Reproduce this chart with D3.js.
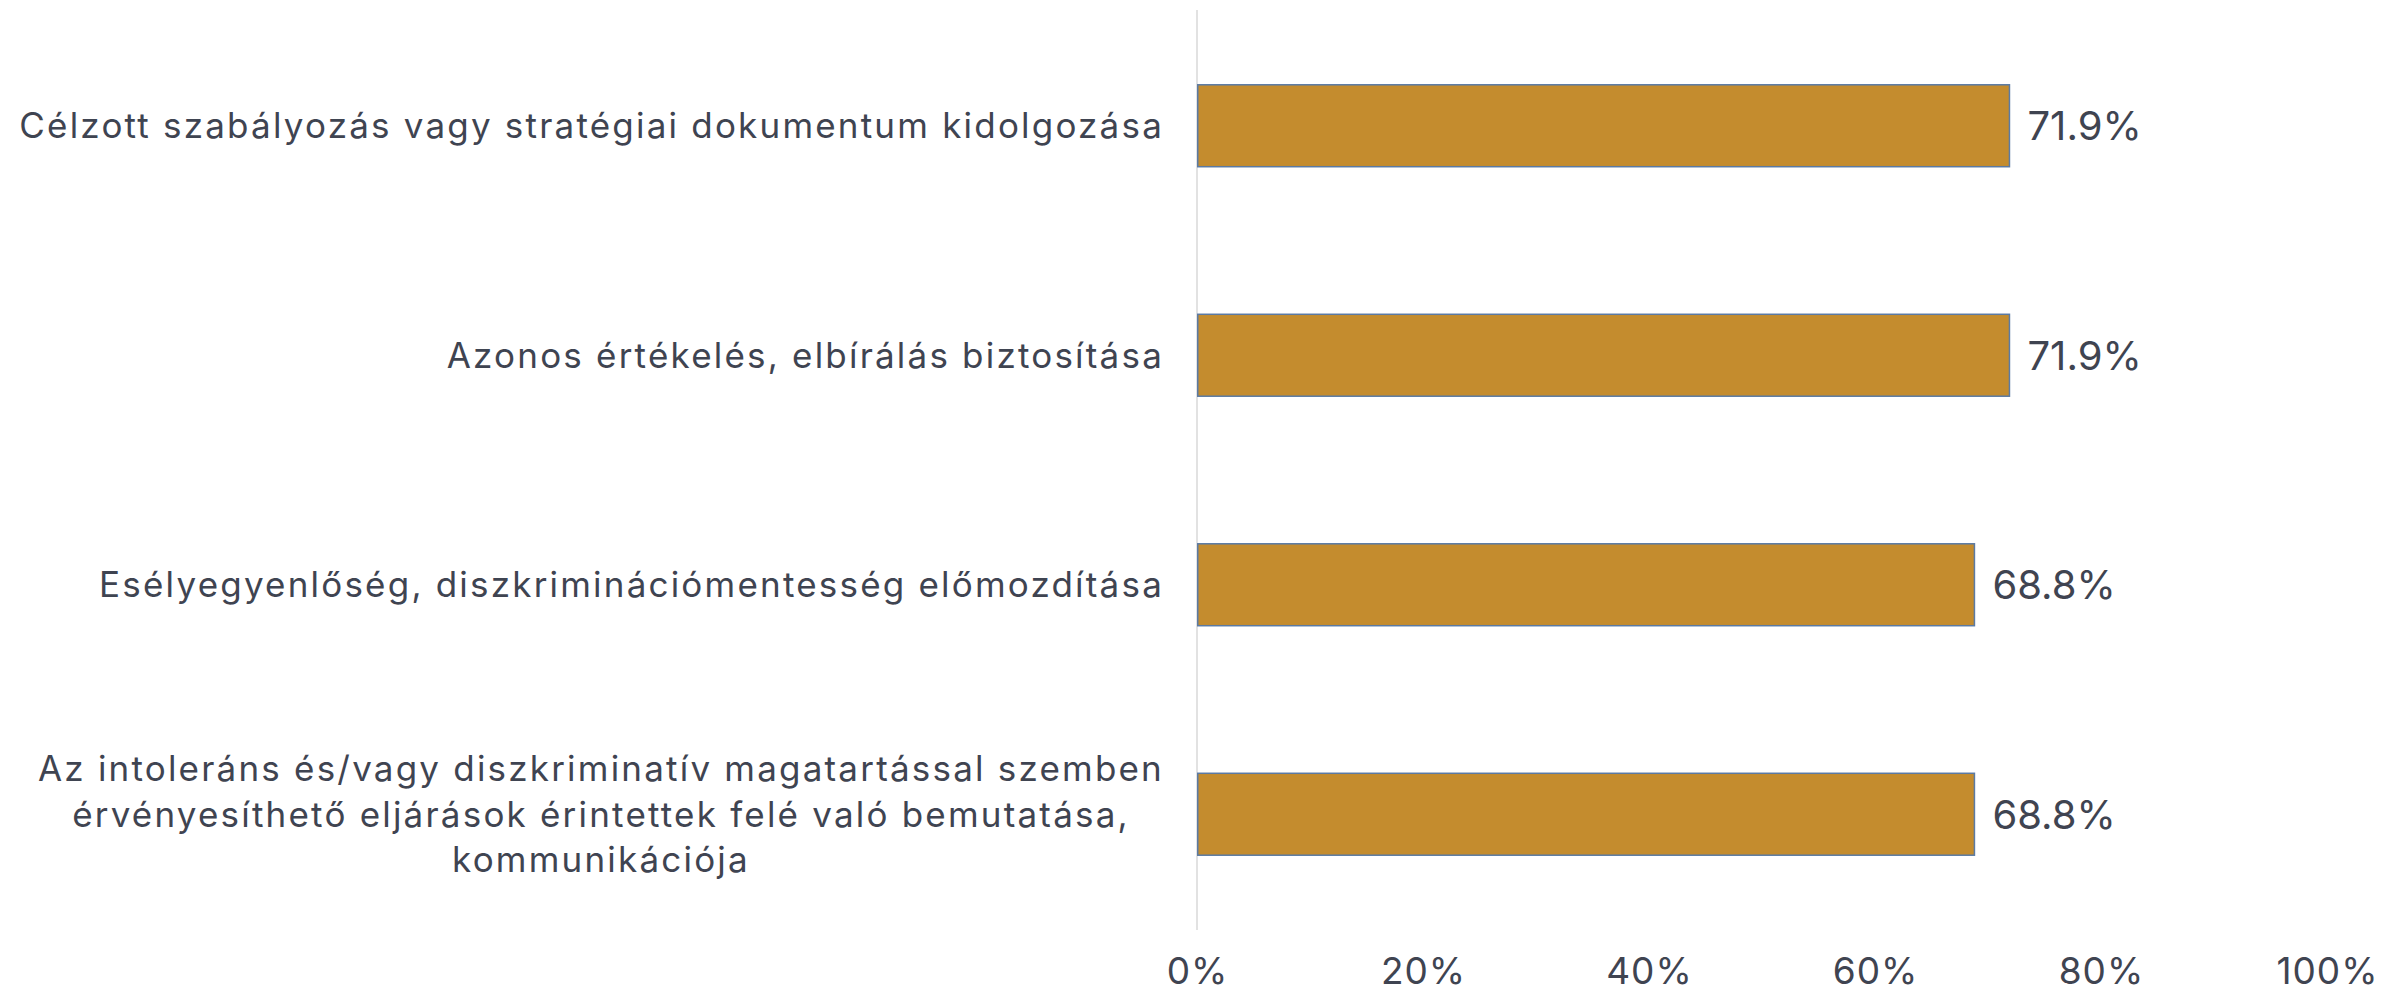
<!DOCTYPE html>
<html>
<head>
<meta charset="utf-8">
<script src="https://cdn.jsdelivr.net/npm/d3@7"></script>
<style>
  html, body { margin: 0; padding: 0; background: #ffffff; }
  svg { display: block; }
  text { font-family: "Inter", "Open Sans", sans-serif; fill: #3F4451; }
</style>
</head>
<body>
<svg id="chart" width="2382" height="996"></svg>
<script>
// ---- data ----
const categories = [
  "Célzott szabályozás vagy stratégiai dokumentum kidolgozása",
  "Azonos értékelés, elbírálás biztosítása",
  "Esélyegyenlőség, diszkriminációmentesség előmozdítása",
  "Az intoleráns és/vagy diszkriminatív magatartással szemben\nérvényesíthető eljárások érintettek felé való bemutatása,\nkommunikációja"
];
const values = [71.9, 71.9, 68.8, 68.8];
const tickValues = [0, 20, 40, 60, 80, 100];

// ---- layout ----
const svg = d3.select("#chart");
const x = d3.scaleLinear().domain([0, 100]).range([1197, 2327]);
const y = d3.scaleBand().domain(categories).range([11, 929])
  .paddingInner(0.643).paddingOuter(0.3215);

// vertical axis line
svg.append("line")
  .attr("x1", x(0)).attr("x2", x(0))
  .attr("y1", 10).attr("y2", 930)
  .attr("stroke", "#D9D9D9").attr("stroke-width", 1.5);

// bars
svg.append("g").selectAll("rect").data(categories).join("rect")
  .attr("x", x(0) + 0.75)
  .attr("y", d => y(d))
  .attr("width", (d, i) => x(values[i]) - x(0) - 0.75)
  .attr("height", y.bandwidth())
  .attr("fill", "#C48C2E")
  .attr("stroke", "#5B7AA3")
  .attr("stroke-width", 1.5);

// value labels
svg.append("g").selectAll("text").data(categories).join("text")
  .attr("x", (d, i) => x(values[i]) + 18)
  .attr("y", d => y(d) + y.bandwidth() / 2)
  .attr("dy", "0.36em")
  .style("font-size", "40px")
  .text((d, i) => values[i].toFixed(1) + "%");

// category labels (multi-line centered, right edge aligned)
const labelRight = 1164;
const lineH = 45.5;
const catG = svg.append("g");
categories.forEach(c => {
  const lines = c.split("\n");
  const t = catG.append("text")
    .attr("text-anchor", "middle")
    .style("font-size", "35px")
    .style("letter-spacing", "2.2px");
  const cy = y(c) + y.bandwidth() / 2;
  lines.forEach((ln, j) => {
    t.append("tspan")
      .attr("x", 0)
      .attr("y", cy + (j - (lines.length - 1) / 2) * lineH)
      .attr("dy", "0.36em")
      .text(ln);
  });
  const w = t.node().getBBox().width;
  t.attr("transform", `translate(${labelRight - w / 2},0)`);
});

// x axis tick labels
const xAxis = d3.axisBottom(x).tickValues(tickValues).tickSize(0).tickPadding(0)
  .tickFormat(d => d + "%");
const ax = svg.append("g").attr("transform", "translate(0,958)").call(xAxis);
ax.select(".domain").remove();
ax.selectAll("text")
  .attr("y", 0).attr("dy", "0.71em")
  .style("font-size", "37px")
  .style("letter-spacing", "1px")
  .style("font-family", "Inter, 'Open Sans', sans-serif")
  .attr("fill", "#3F4451");
</script>
</body>
</html>
